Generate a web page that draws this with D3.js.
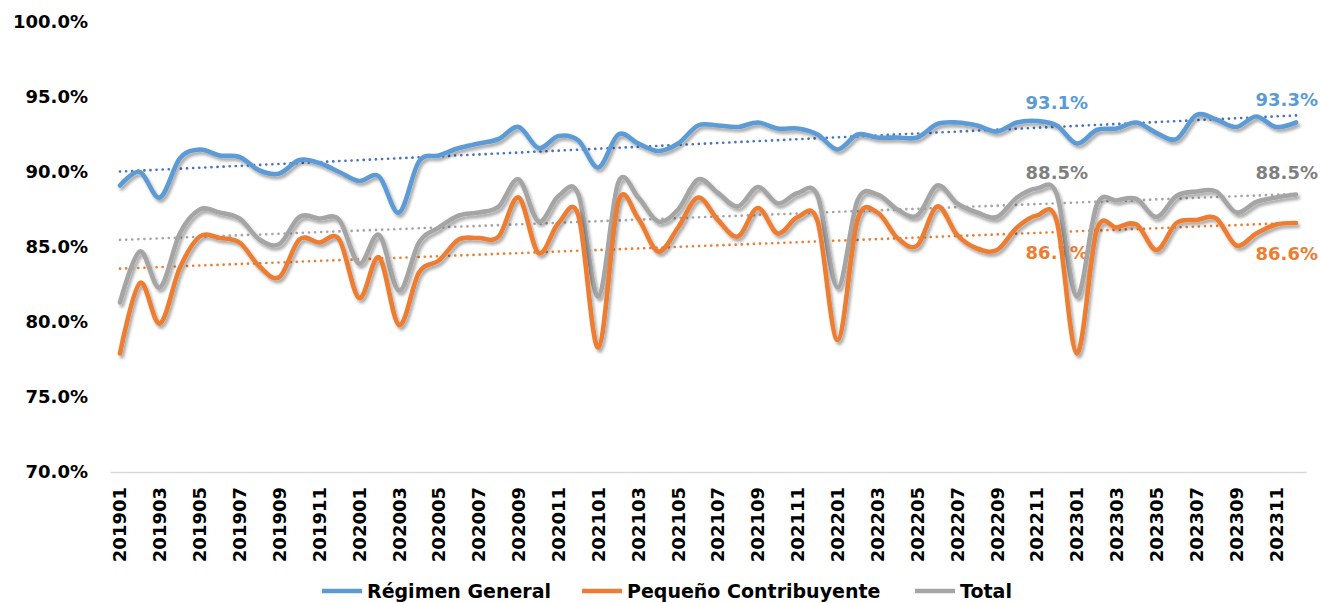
<!DOCTYPE html>
<html>
<head>
<meta charset="utf-8">
<script src="https://cdn.jsdelivr.net/npm/d3@7"></script>
<style>
  body { margin: 0; background: #fff; }
  svg { display: block; font-family: "DejaVu Sans", sans-serif; font-weight: bold; }
</style>
</head>
<body>
<div id="chart"></div>
<script>
// Months (categories)
const months = [
  '201901','201902','201903','201904','201905','201906','201907','201908','201909','201910','201911','201912',
  '202001','202002','202003','202004','202005','202006','202007','202008','202009','202010','202011','202012',
  '202101','202102','202103','202104','202105','202106','202107','202108','202109','202110','202111','202112',
  '202201','202202','202203','202204','202205','202206','202207','202208','202209','202210','202211','202212',
  '202301','202302','202303','202304','202305','202306','202307','202308','202309','202310','202311','202312'
];

// Series values (%)
const regimenGeneral = [
  89.1, 90.0, 88.3, 90.9, 91.5, 91.1, 91.0, 90.1, 89.9, 90.8,
  90.6, 90.0, 89.4, 89.7, 87.3, 90.7, 91.1, 91.6, 91.9, 92.2,
  93.0, 91.6, 92.4, 92.1, 90.3, 92.5, 91.9, 91.4, 91.9, 93.1,
  93.1, 93.0, 93.3, 92.9, 92.9, 92.5, 91.5, 92.5, 92.3, 92.3,
  92.3, 93.2, 93.3, 93.1, 92.7, 93.3, 93.4, 93.1, 91.9, 92.8,
  92.9, 93.3, 92.6, 92.2, 93.8, 93.5, 93.0, 93.7, 93.0, 93.3
];
const pequenoContribuyente = [
  77.9, 82.6, 79.9, 83.6, 85.7, 85.6, 85.3, 83.7, 83.0, 85.5,
  85.3, 85.5, 81.6, 84.3, 79.8, 83.3, 84.1, 85.5, 85.6, 85.7,
  88.3, 84.6, 86.6, 87.1, 78.3, 88.0, 86.9, 84.7, 86.3, 88.3,
  86.8, 85.7, 87.6, 85.9, 87.0, 86.7, 78.8, 86.8, 87.3, 85.6,
  85.1, 87.7, 85.8, 84.9, 84.8, 86.3, 87.1, 86.7, 77.9, 86.1,
  86.3, 86.5, 84.8, 86.6, 86.8, 86.9, 85.1, 85.9, 86.5, 86.6
];
const total = [
  81.3, 84.7, 82.3, 85.9, 87.5, 87.3, 86.9, 85.5, 85.2, 87.0,
  86.9, 86.8, 83.9, 85.8, 82.1, 85.3, 86.3, 87.1, 87.3, 87.7,
  89.5, 86.7, 88.4, 88.5, 81.7, 89.3, 88.3, 86.7, 87.5, 89.5,
  88.6, 87.7, 89.0, 87.9, 88.6, 88.4, 82.3, 88.1, 88.5, 87.5,
  87.1, 89.1, 87.9, 87.3, 87.0, 88.3, 88.9, 88.5, 81.7, 87.8,
  88.1, 88.2, 87.0, 88.4, 88.7, 88.7, 87.3, 88.0, 88.3, 88.5
];

const yTicks = [70, 75, 80, 85, 90, 95, 100];
const seriesNames = ['Régimen General', 'Pequeño Contribuyente', 'Total'];
const labelMonths = ['202212', '202312'];

// Styles
const lineColors = ['#5B9BD5', '#ED7D31', '#A5A5A5'];
const trendColors = ['#4472C4', '#ED7D31', '#A5A5A5'];
const labelColors = ['#5B9BD5', '#ED7D31', '#7F7F7F'];
const labelOffset = [-17, 37, -16];

const W = 1320, H = 603;
const svg = d3.select('#chart').append('svg')
  .attr('width', W)
  .attr('height', H);

svg.append('rect').attr('width', W).attr('height', H).attr('fill', '#fff');

// Drop shadow for the lines
const filter = svg.append('defs').append('filter')
  .attr('id', 'shadow')
  .attr('x', '-5%').attr('y', '-20%')
  .attr('width', '110%').attr('height', '140%');
filter.append('feDropShadow')
  .attr('dx', 2).attr('dy', 3)
  .attr('stdDeviation', 1.6)
  .attr('flood-color', '#000')
  .attr('flood-opacity', 0.33);

// Scales
const x = d3.scaleBand()
  .domain(months)
  .range([110, 1306]);
const xc = d => x(d) + x.bandwidth() / 2;

const y = d3.scaleLinear()
  .domain([70, 100])
  .range([472, 22]);

// Y axis labels
svg.append('g')
  .selectAll('text')
  .data(yTicks)
  .join('text')
    .attr('x', 88)
    .attr('y', d => y(d))
    .attr('dy', '0.36em')
    .attr('text-anchor', 'end')
    .style('font-size', '18px')
    .attr('fill', '#000')
    .text(d => d3.format('.1f')(d) + '%');

// X axis
const xAxis = svg.append('g')
  .attr('transform', `translate(0,472)`)
  .call(d3.axisBottom(x)
    .tickValues(months.filter((m, i) => i % 2 === 0))
    .tickSize(0)
    .tickPadding(0));
xAxis.select('.domain')
  .attr('stroke', '#D9D9D9')
  .attr('stroke-width', 1.3);
xAxis.selectAll('text')
  .attr('transform', 'rotate(-90)')
  .attr('x', -15)
  .attr('y', 0)
  .attr('dy', '0.36em')
  .style('text-anchor', 'end')
  .style('font-size', '18px')
  .style('font-family', '"DejaVu Sans", sans-serif')
  .style('font-weight', 'bold')
  .attr('fill', '#000');

const allSeries = [regimenGeneral, pequenoContribuyente, total];

// Linear trend lines (least squares on month index)
function trend(values) {
  const n = values.length;
  const xs = d3.range(n);
  const mx = d3.mean(xs), my = d3.mean(values);
  const b = d3.sum(xs, i => (i - mx) * (values[i] - my)) / d3.sum(xs, i => (i - mx) * (i - mx));
  const a = my - b * mx;
  return [[months[0], a], [months[n - 1], a + b * (n - 1)]];
}

const trendG = svg.append('g');
allSeries.forEach((vals, s) => {
  trendG.append('path')
    .datum(trend(vals))
    .attr('fill', 'none')
    .attr('stroke', trendColors[s])
    .attr('stroke-width', 2.6)
    .attr('stroke-linecap', 'round')
    .attr('stroke-dasharray', '0.1 6')
    .attr('d', d3.line().x(d => xc(d[0])).y(d => y(d[1])));
});

// Data labels (drawn under the lines, as in the original)
const labelG = svg.append('g');
allSeries.forEach((vals, s) => {
  labelMonths.forEach(m => {
    const i = months.indexOf(m);
    const t = labelG.append('text')
      .attr('y', y(vals[i]) + labelOffset[s])
      .attr('fill', labelColors[s])
      .style('font-size', '18px')
      .text(d3.format('.1f')(vals[i]) + '%');
    const w = t.node().getComputedTextLength();
    const left = Math.min(xc(m) - w / 2, 1318 - w);
    t.attr('x', left);
  });
});

// Smoothed lines
const line = d3.line()
  .x((d, i) => xc(months[i]))
  .y(d => y(d))
  .curve(d3.curveCatmullRom.alpha(0));

const lineG = svg.append('g');
[2, 1, 0].forEach(s => {
  lineG.append('path')
    .datum(allSeries[s])
    .attr('fill', 'none')
    .attr('stroke', lineColors[s])
    .attr('stroke-width', 4.6)
    .attr('stroke-linejoin', 'round')
    .attr('stroke-linecap', 'round')
    .attr('filter', 'url(#shadow)')
    .attr('d', line);
});

// Legend
const legendX = [322, 582, 915];
const legend = svg.append('g');
seriesNames.forEach((name, s) => {
  legend.append('line')
    .attr('x1', legendX[s]).attr('x2', legendX[s] + 40)
    .attr('y1', 591).attr('y2', 591)
    .attr('stroke', lineColors[s])
    .attr('stroke-width', 4.6);
  legend.append('text')
    .attr('x', legendX[s] + 45)
    .attr('y', 591)
    .attr('dy', '0.36em')
    .style('font-size', '19px')
    .attr('fill', '#000')
    .text(name);
});
</script>
</body>
</html>
